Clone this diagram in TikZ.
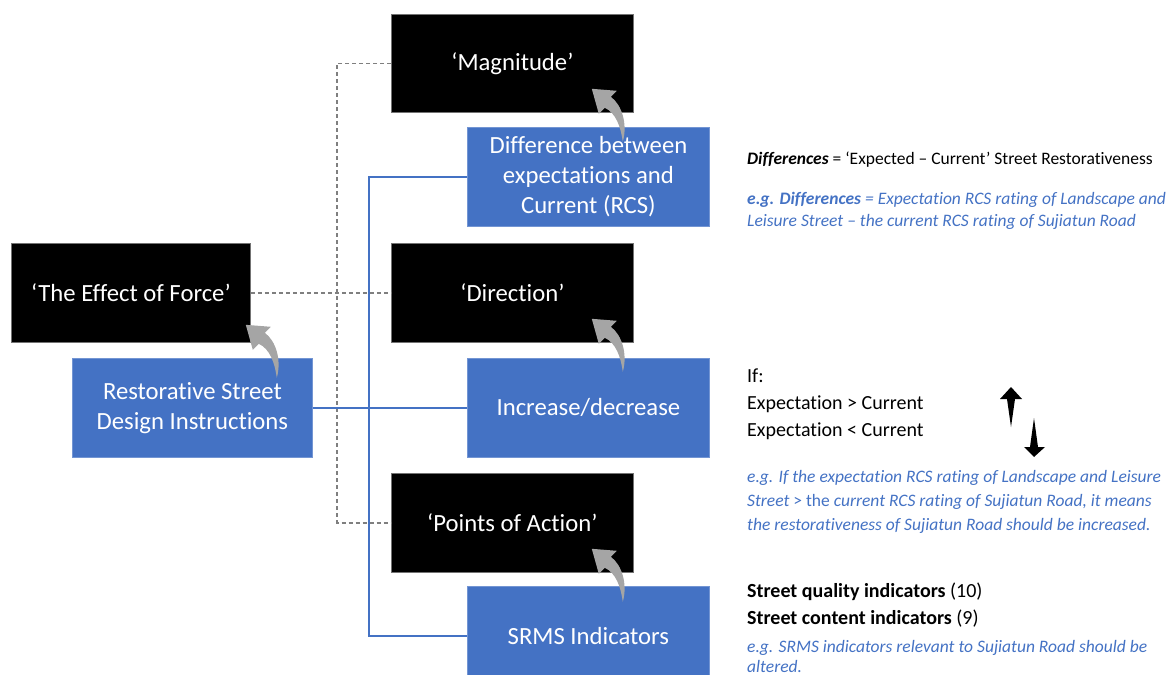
\documentclass[tikz,border=0pt]{standalone}
\usepackage{fontspec}
\setmainfont[Ligatures={NoCommon,NoContextual},RawFeature={-dlig}]{Carlito}
\usetikzlibrary{calc}
\definecolor{boxblue}{HTML}{4472C4}
\definecolor{arrowgray}{HTML}{A5A5A5}
\definecolor{dashgray}{HTML}{7F7F7F}
\tikzset{
  base box/.style={anchor=north west, inner sep=0pt, align=center,
    font=\fontsize{24.7}{30}\selectfont, text=white, line width=0.8pt},
  forcebox/.style={base box, fill=black, draw=black!55},
  infobox/.style={base box, fill=boxblue, draw=boxblue!75!white},
  dashlink/.style={dashgray, line width=1.3pt, dash pattern=on 4pt off 3pt},
  bluelink/.style={boxblue, line width=2.2pt},
  note/.style={anchor=base west, inner sep=0pt, font=\fontsize{20}{26}\selectfont},
  smallnote/.style={anchor=base west, inner sep=0pt, font=\fontsize{17.5}{23}\selectfont},
  example/.style={smallnote, text=boxblue, font=\fontsize{17.5}{23}\selectfont\itshape},
  curl arrow/.pic={
    \fill[arrowgray] (0,0) -- (25,2) -- (19,8)
      .. controls (30,16) and (36,35) .. (31,53)
      .. controls (29,38) and (24,24) .. (13,19) -- (7,25) -- cycle;
  }
}
\begin{document}
\begin{tikzpicture}[x=1pt,y=-1pt]
\useasboundingbox (0,0) rectangle (1171,675);
\clip (0,0) rectangle (1171,675);

% columns for the connector trunks
\coordinate (dx) at (337,0);
\coordinate (bx) at (369,0);

% force concepts (black) and street measures (blue)
\node[forcebox, minimum width=242pt, minimum height=98pt] (mag) at (391,14) {‘Magnitude’};
\node[forcebox, minimum width=242pt, minimum height=99pt] (dir) at (391,243) {‘Direction’};
\node[forcebox, minimum width=242pt, minimum height=99pt] (poa) at (391,473) {‘Points of Action’};
\node[forcebox, minimum width=239pt, minimum height=99pt] (eff) at (11,243) {‘The Effect of Force’};

\node[infobox, minimum width=240pt, minimum height=99pt] (rsd) at (72,358) {Restorative Street\\Design Instructions};
\node[infobox, minimum width=242pt, minimum height=99pt] (diff) at (467,127) {Difference between\\expectations and\\Current (RCS)};
\node[infobox, minimum width=242pt, minimum height=99pt] (incr) at (467,358) {Increase/decrease};
\node[infobox, minimum width=242pt, minimum height=99pt] (srms) at (467,586) {SRMS Indicators};

% dashed links between force concepts
\draw[dashlink] (eff.east) -- (dir.west);
\draw[dashlink] (mag.west) -- (mag.west -| dx) -- (poa.west -| dx) -- (poa.west);

% blue links between the measures
\draw[bluelink] (rsd.east) -- (incr.west);
\draw[bluelink] (diff.west) -- (diff.west -| bx) -- (srms.west -| bx) -- (srms.west);

% curled arrows from each measure to its concept
\pic at ($(mag.south east)+(-42,-24)$) {curl arrow};
\pic at ($(dir.south east)+(-42,-24)$) {curl arrow};
\pic at ($(poa.south east)+(-42,-24)$) {curl arrow};
\pic at ($(eff.south east)+(-5,-18)$) {curl arrow};

% notes on differences
\node[smallnote] (n1) at (747,164) {\textbf{\textit{Differences}} = ‘Expected – Current’ Street Restorativeness};
\node[example] (n2) at (747,204) {\textbf{e.g. Differences} = Expectation RCS rating of Landscape and};
\node[example] (n3) at (747,226) {Leisure Street – the current RCS rating of Sujiatun Road};

% notes on direction
\node[note] (d1) at (747,382) {If:};
\node[note] (d2) at (747,409) {Expectation > Current};
\node[note] (d3) at (747,436) {Expectation < Current};
\node[example] (d4) at (747,482) {e.g. If the expectation RCS rating of Landscape and Leisure};
\node[example] (d5) at (747,506) {Street {\upshape > the} current RCS rating of Sujiatun Road, it means};
\node[example] (d6) at (747,530) {the restorativeness of Sujiatun Road should be increased.};

% up and down arrows
\fill (1011,387) -- (1022,399) -- (1015,399) -- (1011,427) -- (1007,399) -- (1000,399) -- cycle;
\fill (1034,457) -- (1045,447) -- (1038,447) -- (1034,418) -- (1030,447) -- (1024,447) -- cycle;

% notes on indicators
\node[note] (s1) at (747,597) {\textbf{Street quality indicators} (10)};
\node[note] (s2) at (747,624) {\textbf{Street content indicators} (9)};
\node[example] (s3) at (747,652) {e.g. SRMS indicators relevant to Sujiatun Road should be};
\node[example] (s4) at (747,672) {altered.};
\end{tikzpicture}
\end{document}
